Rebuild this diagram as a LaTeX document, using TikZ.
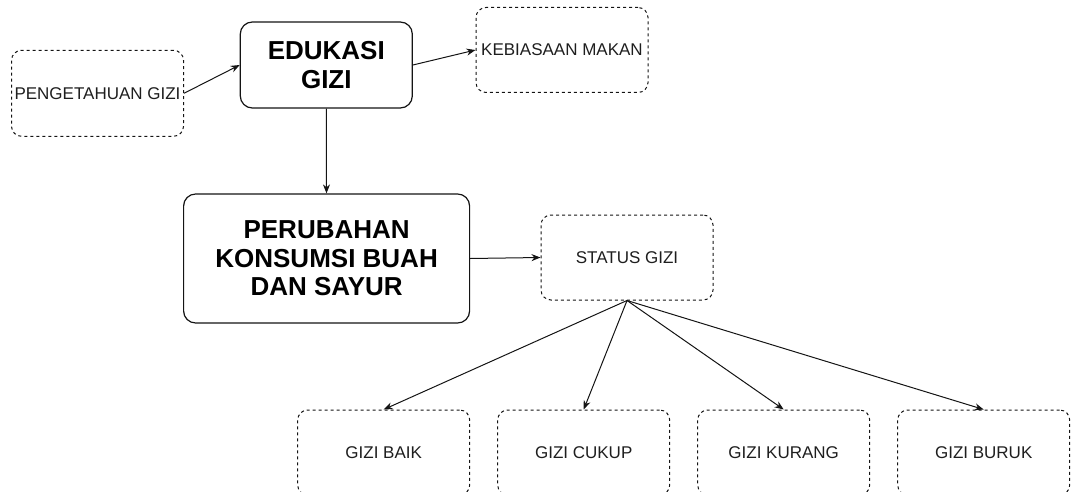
\documentclass[tikz,border=0pt]{standalone}
\usepackage{fontspec}
\setmainfont{Liberation Sans}
\usepackage{tikz}
\usetikzlibrary{
  arrows.meta,
  positioning
}
\definecolor{giziDark}{RGB}{20,20,20}
\definecolor{giziText}{RGB}{30,30,30}
\tikzset{
  giziBox/.style={
    rectangle,
    rounded corners=10pt,
    draw=giziDark,
    line width=1pt,
    dash pattern=on 3pt off 3pt,
    minimum width=172pt,
    minimum height=85pt,
    inner sep=0pt,
    text=giziText,
    align=center,
    font=\fontsize{17}{19}\selectfont
  },
  giziMain/.style={
    rectangle,
    rounded corners=12pt,
    draw=giziDark,
    line width=1.2pt,
    minimum width=172pt,
    minimum height=86pt,
    inner sep=0pt,
    align=center,
    font=\fontsize{26}{28.5}\selectfont\bfseries
  },
  giziArrow/.style={
    -{Stealth[length=9pt,width=7pt]},
    line width=1pt,
    draw=giziDark
  }
}

\begin{document}
\begin{tikzpicture}[x=1pt,y=-1pt,node distance=27pt]
  \useasboundingbox (0,0) rectangle (1075,492);
  \clip (0,0) rectangle (1075,492);

  \node[giziBox, minimum height=86pt] (peng) at (97.5,93.3) {PENGETAHUAN GIZI};
  \node[giziMain] (edukasi) at (326.3,65) {EDUKASI\\GIZI};
  \node[giziBox] (kebiasaan) at (562,50) {KEBIASAAN MAKAN};
  \node[giziMain, minimum width=286pt, minimum height=129pt] (perubahan) at (326.6,258.5)
    {PERUBAHAN\\KONSUMSI BUAH\\DAN SAYUR};
  \node[giziBox] (status) at (627,257.5) {STATUS GIZI};

  % bottom row
  \node[giziBox] (baik) at (383.7,452.5) {GIZI BAIK};
  \node[giziBox, right=of baik] (cukup) {GIZI CUKUP};
  \node[giziBox, right=of cukup] (kurang) {GIZI KURANG};
  \node[giziBox, right=of kurang] (buruk) {GIZI BURUK};

  \draw[giziArrow] (peng.east) -- (edukasi.west);
  \draw[giziArrow] (edukasi.east) -- (kebiasaan.west);
  \draw[giziArrow] (edukasi) -- (perubahan);
  \draw[giziArrow] (perubahan.east) -- (status.west);
  \foreach \g in {baik,cukup,kurang,buruk}
    \draw[giziArrow] (status.south) -- (\g.north);
\end{tikzpicture}
\end{document}
